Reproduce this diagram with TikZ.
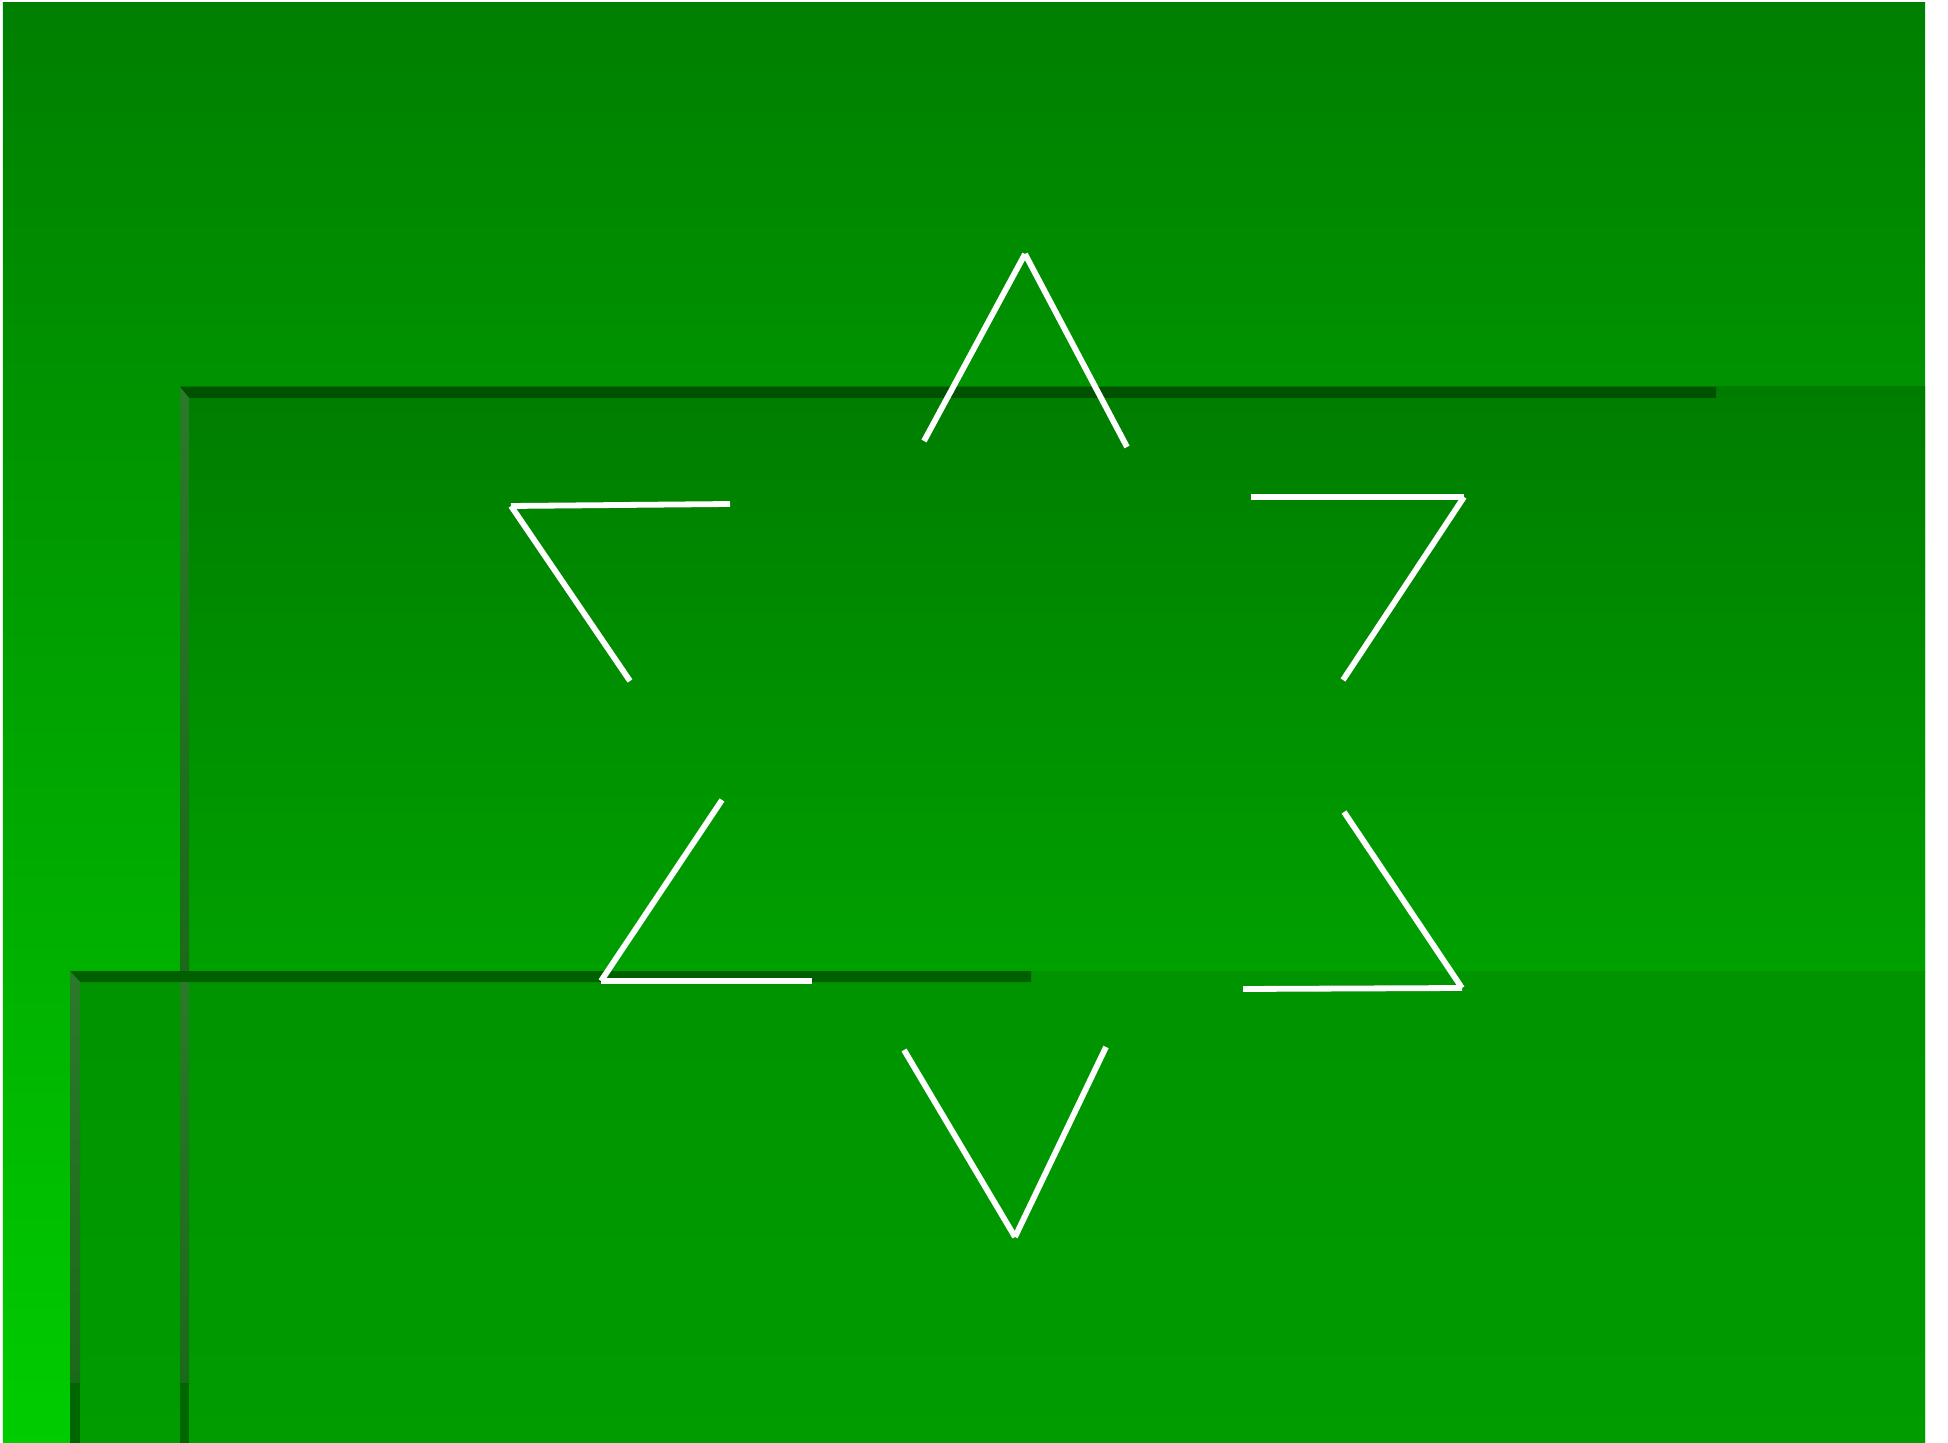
\documentclass[tikz,border=0pt]{standalone}
\begin{document}
\begin{tikzpicture}[x=0.01cm,y=-0.01cm,
  starline/.style={draw=white,line width=0.058cm,line cap=butt},
]
\definecolor{bgtop}{HTML}{007F00}
\definecolor{bgmid}{HTML}{00A400}
\definecolor{bgbot}{HTML}{00CC00}
\definecolor{pAtop}{HTML}{007D00}
\definecolor{pAbot}{HTML}{00A000}
\definecolor{pBtop}{HTML}{009400}
\definecolor{pBbot}{HTML}{009C00}
\definecolor{edgeA}{HTML}{005200}
\definecolor{edgeB}{HTML}{006000}
\definecolor{sideA}{HTML}{2A7A2A}
\definecolor{sideB}{HTML}{1A6A1A}
\definecolor{sideC}{HTML}{006600}
\useasboundingbox (0,0) rectangle (1948,1443);
\fill[white] (0,0) rectangle (1948,1443);
% background gradient
\shade[top color=bgtop, bottom color=bgbot, middle color=bgmid] (3,3) rectangle (1925,1443);
% panel 1
\shade[top color=pAtop, bottom color=pAbot] (180,387) rectangle (1925,971);
\fill[edgeA] (180,387) -- (1716,387) -- (1716,398) -- (189,398) -- cycle;
% panel 2
\shade[top color=pBtop, bottom color=pBbot] (70,971) rectangle (1925,1443);
\fill[edgeB] (70,971) -- (1031,971) -- (1031,982) -- (80,982) -- cycle;
% side borders
\shade[top color=sideA, bottom color=sideB] (180,387) -- (189,398) -- (189,971) -- (180,971) -- cycle;
\shade[top color=sideA, bottom color=sideB] (70,971) -- (80,982) -- (80,1383) -- (70,1383) -- cycle;
\shade[top color=sideA, bottom color=sideB] (180,982) rectangle (189,1383);
\fill[sideC] (70,1383) rectangle (80,1443);
\fill[sideC] (180,1383) rectangle (189,1443);
% star segments
\coordinate (t)  at (1025,254);
\coordinate (t1) at (924,441);
\coordinate (t2) at (1127,447);
\coordinate (ul) at (511,506);
\coordinate (ul1) at (730,504);
\coordinate (ul2) at (630,681);
\coordinate (ur) at (1464,497);
\coordinate (ur1) at (1251,497);
\coordinate (ur2) at (1343,680);
\coordinate (ll) at (601,981);
\coordinate (ll1) at (722,800);
\coordinate (ll2) at (812,981);
\coordinate (lr) at (1462,988);
\coordinate (lr1) at (1344,812);
\coordinate (lr2) at (1243,989);
\coordinate (b)  at (1015,1237);
\coordinate (b1) at (904,1050);
\coordinate (b2) at (1106,1047);
\draw[starline] (t) -- (t1);
\draw[starline] (t) -- (t2);
\draw[starline] (ul) -- (ul1);
\draw[starline] (ul) -- (ul2);
\draw[starline] (ur1) -- (ur);
\draw[starline] (ur) -- (ur2);
\draw[starline] (ll1) -- (ll);
\draw[starline] (ll) -- (ll2);
\draw[starline] (lr1) -- (lr);
\draw[starline] (lr) -- (lr2);
\draw[starline] (b1) -- (b);
\draw[starline] (b) -- (b2);
\end{tikzpicture}
\end{document}
